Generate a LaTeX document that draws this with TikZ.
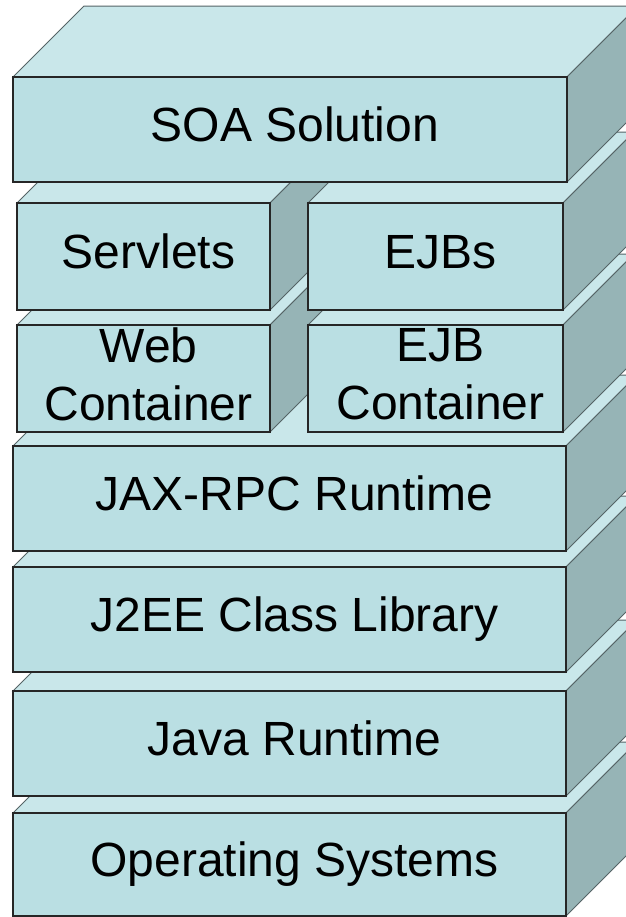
\documentclass[tikz,border=0pt]{standalone}
\usepackage{fontspec}
\setmainfont{Liberation Sans}
\definecolor{frontblue}{RGB}{186,223,227}
\definecolor{topblue}{RGB}{201,231,234}
\definecolor{sidegray}{RGB}{150,180,182}
\definecolor{edgegray}{RGB}{85,100,102}

\begin{document}
\begin{tikzpicture}[x=0.5pt, y=-0.5pt,
    front/.style={fill=frontblue, draw=black!85, line width=0.7pt},
    topface/.style={fill=topblue, draw=edgegray, line width=0.5pt},
    sideface/.style={fill=sidegray, draw=edgegray, line width=0.5pt},
    layertext/.style={font=\fontsize{24}{29}\selectfont, text height=17pt, text depth=5pt, inner sep=0pt},
    twolines/.style={font=\fontsize{24}{29}\selectfont, align=center, inner sep=0pt}]
    \useasboundingbox (0,0) rectangle (626,917);
    \clip (0,0) rectangle (626,917);
    \fill[white] (0,0) rectangle (626,917);

    % Operating Systems
    \draw[topface] (13,813) -- ++(71,-71) -- ++(553,0) -- ++(-71,71) -- cycle;
    \draw[sideface] (566,813) -- ++(71,-71) -- ++(0,103) -- ++(-71,71) -- cycle;
    \draw[front] (13,813) rectangle (566,916);
    \node[layertext] (os) at (294.5,864.5) {Operating Systems};

    % Java Runtime
    \draw[topface] (13,691) -- ++(71,-71) -- ++(553,0) -- ++(-71,71) -- cycle;
    \draw[sideface] (566,691) -- ++(71,-71) -- ++(0,105) -- ++(-71,71) -- cycle;
    \draw[front] (13,691) rectangle (566,796);
    \node[layertext] (java) at (294.5,743.5) {Java Runtime};

    % J2EE Class Library
    \draw[topface] (13,567) -- ++(71,-71) -- ++(553,0) -- ++(-71,71) -- cycle;
    \draw[sideface] (566,567) -- ++(71,-71) -- ++(0,105) -- ++(-71,71) -- cycle;
    \draw[front] (13,567) rectangle (566,672);
    \node[layertext] (j2ee) at (294.5,619.5) {J2EE Class Library};

    % JAX-RPC Runtime
    \draw[topface] (13,446) -- ++(71,-71) -- ++(553,0) -- ++(-71,71) -- cycle;
    \draw[sideface] (566,446) -- ++(71,-71) -- ++(0,105) -- ++(-71,71) -- cycle;
    \draw[front] (13,446) rectangle (566,551);
    \node[layertext] (jaxrpc) at (294.5,498.5) {JAX-RPC Runtime};

    % Containers
    \draw[topface] (17,325) -- ++(71,-71) -- ++(253,0) -- ++(-71,71) -- cycle;
    \draw[sideface] (270,325) -- ++(71,-71) -- ++(0,107) -- ++(-71,71) -- cycle;
    \draw[front] (17,325) rectangle (270,432);
    \node[twolines] (webcont) at (148.5,374.5) {Web\\Container};

    \draw[topface] (308,325) -- ++(71,-71) -- ++(255,0) -- ++(-71,71) -- cycle;
    \draw[sideface] (563,325) -- ++(71,-71) -- ++(0,107) -- ++(-71,71) -- cycle;
    \draw[front] (308,325) rectangle (563,432);
    \node[twolines] (ejbcont) at (440.5,374.5) {EJB\\Container};

    % Components
    \draw[topface] (17,203) -- ++(71,-71) -- ++(253,0) -- ++(-71,71) -- cycle;
    \draw[sideface] (270,203) -- ++(71,-71) -- ++(0,107) -- ++(-71,71) -- cycle;
    \draw[front] (17,203) rectangle (270,310);
    \node[layertext] (servlets) at (148.5,256.5) {Servlets};

    \draw[topface] (308,203) -- ++(71,-71) -- ++(255,0) -- ++(-71,71) -- cycle;
    \draw[sideface] (563,203) -- ++(71,-71) -- ++(0,107) -- ++(-71,71) -- cycle;
    \draw[front] (308,203) rectangle (563,310);
    \node[layertext] (ejbs) at (440.5,256.5) {EJBs};

    % SOA Solution
    \draw[topface] (13,77) -- ++(71,-71) -- ++(554,0) -- ++(-71,71) -- cycle;
    \draw[sideface] (567,77) -- ++(71,-71) -- ++(0,105) -- ++(-71,71) -- cycle;
    \draw[front] (13,77) rectangle (567,182);
    \node[layertext] (soa) at (295,129.5) {SOA Solution};
\end{tikzpicture}
\end{document}
